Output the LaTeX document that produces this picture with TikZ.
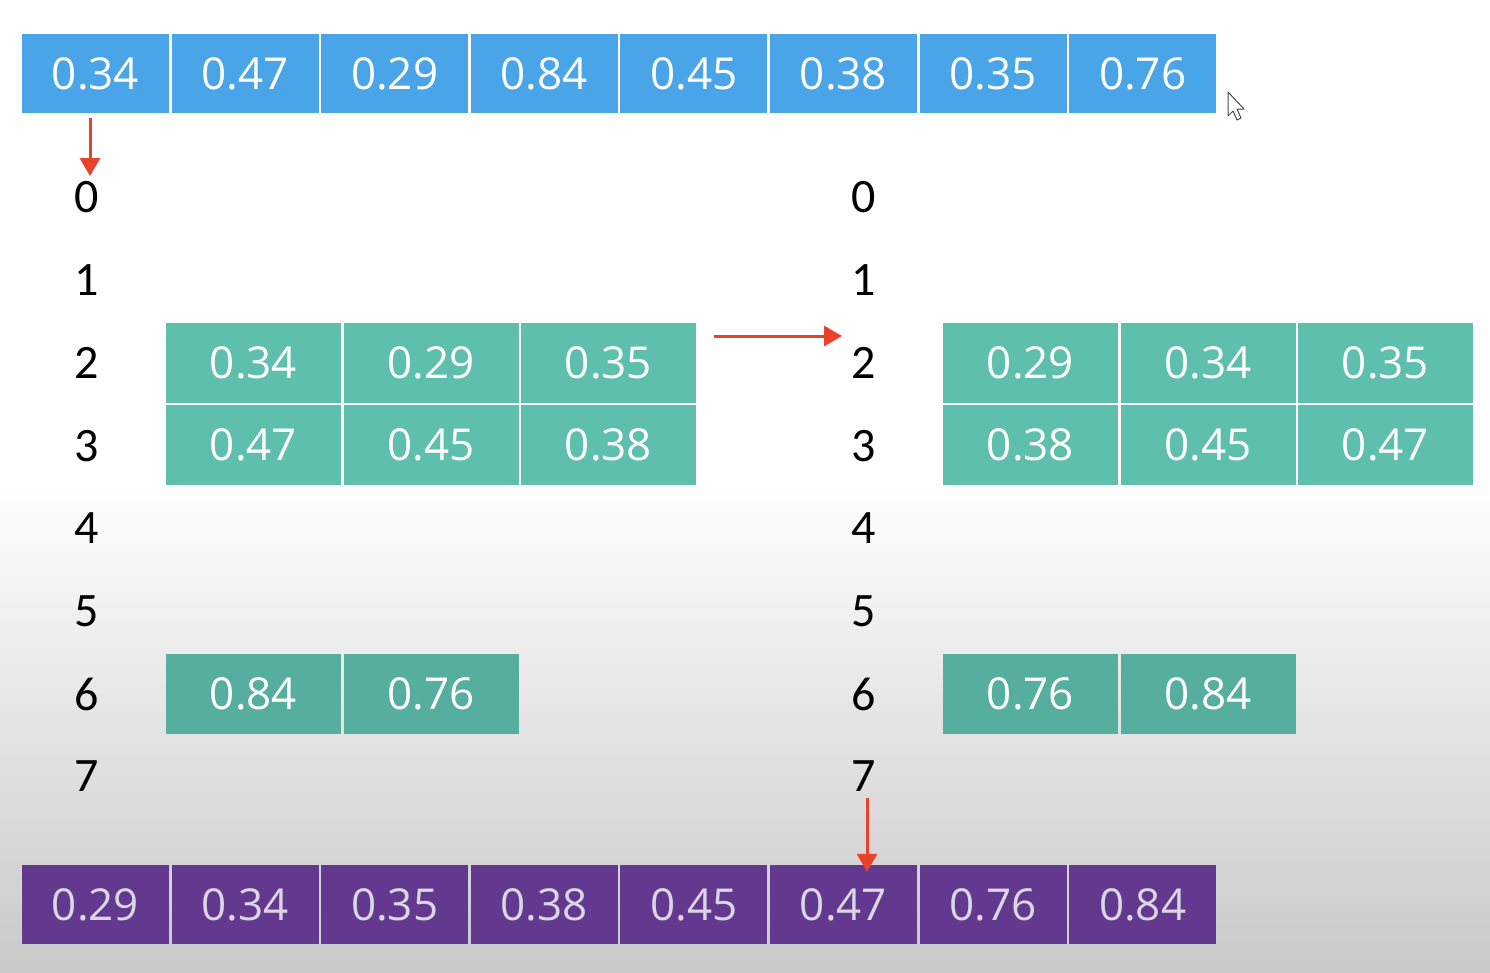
\documentclass[tikz,border=0pt]{standalone}
\usepackage{fontspec}
\setmainfont{Open Sans}
\newfontfamily\idxfont{Carlito}
\usetikzlibrary{arrows.meta}

\definecolor{blueC}{HTML}{4AA5E8}
\definecolor{greenC}{HTML}{5FBFAD}
\definecolor{greenD}{HTML}{55AE9E}
\definecolor{purpleC}{HTML}{62398E}
\definecolor{purpleT}{HTML}{DCD6E4}
\definecolor{redC}{HTML}{E8432A}
\definecolor{bgBot}{HTML}{C9C9C9}

\begin{document}
\begin{tikzpicture}[x=1pt,y=-1pt,
    redarrow/.style={draw=redC, line width=3pt, -{Triangle[length=18pt,width=20pt]}}]

        % background
        \useasboundingbox (0,0) rectangle (1490,972);
        \fill[white] (0,0) rectangle (1490,480);
        \shade[top color=white,bottom color=bgBot] (0,479) rectangle (1490,972);

        % input array
        \begin{scope}[every node/.style={fill=blueC, text=white, inner sep=0,
            minimum width=147pt, minimum height=79pt, font=\fontsize{44}{44}\selectfont}]
          \node (t1) at (95.5,73.5)   {0.34};
          \node (t2) at (245.1,73.5)  {0.47};
          \node (t3) at (394.7,73.5)  {0.29};
          \node (t4) at (544.3,73.5)  {0.84};
          \node (t5) at (693.9,73.5)  {0.45};
          \node (t6) at (843.5,73.5)  {0.38};
          \node (t7) at (993.1,73.5)  {0.35};
          \node (t8) at (1142.7,73.5) {0.76};
        \end{scope}

        % bucket indices
        \begin{scope}[every node/.style={inner sep=0, font=\idxfont\fontsize{48}{48}\selectfont}]
          \node (l0) at (87,197) {0};
          \node (l1) at (87,280) {1};
          \node (l2) at (87,363) {2};
          \node (l3) at (87,446) {3};
          \node (l4) at (87,528) {4};
          \node (l5) at (87,611) {5};
          \node (l6) at (87,694) {6};
          \node (l7) at (87,776) {7};
          \node (r0) at (864,197) {0};
          \node (r1) at (864,280) {1};
          \node (r2) at (864,363) {2};
          \node (r3) at (864,446) {3};
          \node (r4) at (864,528) {4};
          \node (r5) at (864,611) {5};
          \node (r6) at (864,694) {6};
          \node (r7) at (864,776) {7};
        \end{scope}

        % buckets
        \begin{scope}[every node/.style={fill=greenC, text=white, inner sep=0,
            minimum width=175pt, minimum height=80pt, font=\fontsize{44}{44}\selectfont}]
          \node (a21) at (253.5,362.5) {0.34};
          \node (a22) at (431,362.5)   {0.29};
          \node (a23) at (608.5,362.5) {0.35};
          \node (a31) at (253.5,445)   {0.47};
          \node (a32) at (431,445)     {0.45};
          \node (a33) at (608.5,445)   {0.38};
          \node[fill=greenD] (a61) at (253.5,693.5) {0.84};
          \node[fill=greenD] (a62) at (431,693.5)   {0.76};
          \node (b21) at (1030.5,362.5) {0.29};
          \node (b22) at (1208,362.5)   {0.34};
          \node (b23) at (1385.5,362.5) {0.35};
          \node (b31) at (1030.5,445)   {0.38};
          \node (b32) at (1208,445)     {0.45};
          \node (b33) at (1385.5,445)   {0.47};
          \node[fill=greenD] (b61) at (1030.5,693.5) {0.76};
          \node[fill=greenD] (b62) at (1208,693.5)   {0.84};
        \end{scope}

        % sorted array
        \begin{scope}[every node/.style={fill=purpleC, text=purpleT, inner sep=0,
            minimum width=147pt, minimum height=79pt, font=\fontsize{44}{44}\selectfont}]
          \node (s1) at (95.5,904.5)   {0.29};
          \node (s2) at (245.1,904.5)  {0.34};
          \node (s3) at (394.7,904.5)  {0.35};
          \node (s4) at (544.3,904.5)  {0.38};
          \node (s5) at (693.9,904.5)  {0.45};
          \node (s6) at (843.5,904.5)  {0.47};
          \node (s7) at (993.1,904.5)  {0.76};
          \node (s8) at (1142.7,904.5) {0.84};
        \end{scope}

        % arrows
        \coordinate (h1) at (714,336);
        \coordinate (h2) at (842,336);
        \draw[redarrow] ([xshift=-5.5pt,yshift=-5pt]t1.south) -- ([xshift=3pt,yshift=5pt]l0.north);
        \draw[redarrow] (h1) -- (h2);
        \draw[redarrow] ([xshift=3pt,yshift=-6pt]r7.south) -- ([xshift=23.5pt,yshift=-7pt]s6.north);

        % mouse pointer
        \draw[fill=white, draw=black!70, line width=1pt, line join=round]
          (1228,92) -- (1228,116) -- (1233,111) -- (1237,120) -- (1241,118)
          -- (1237,109) -- (1244,109) -- cycle;

      \end{tikzpicture}
\end{document}
